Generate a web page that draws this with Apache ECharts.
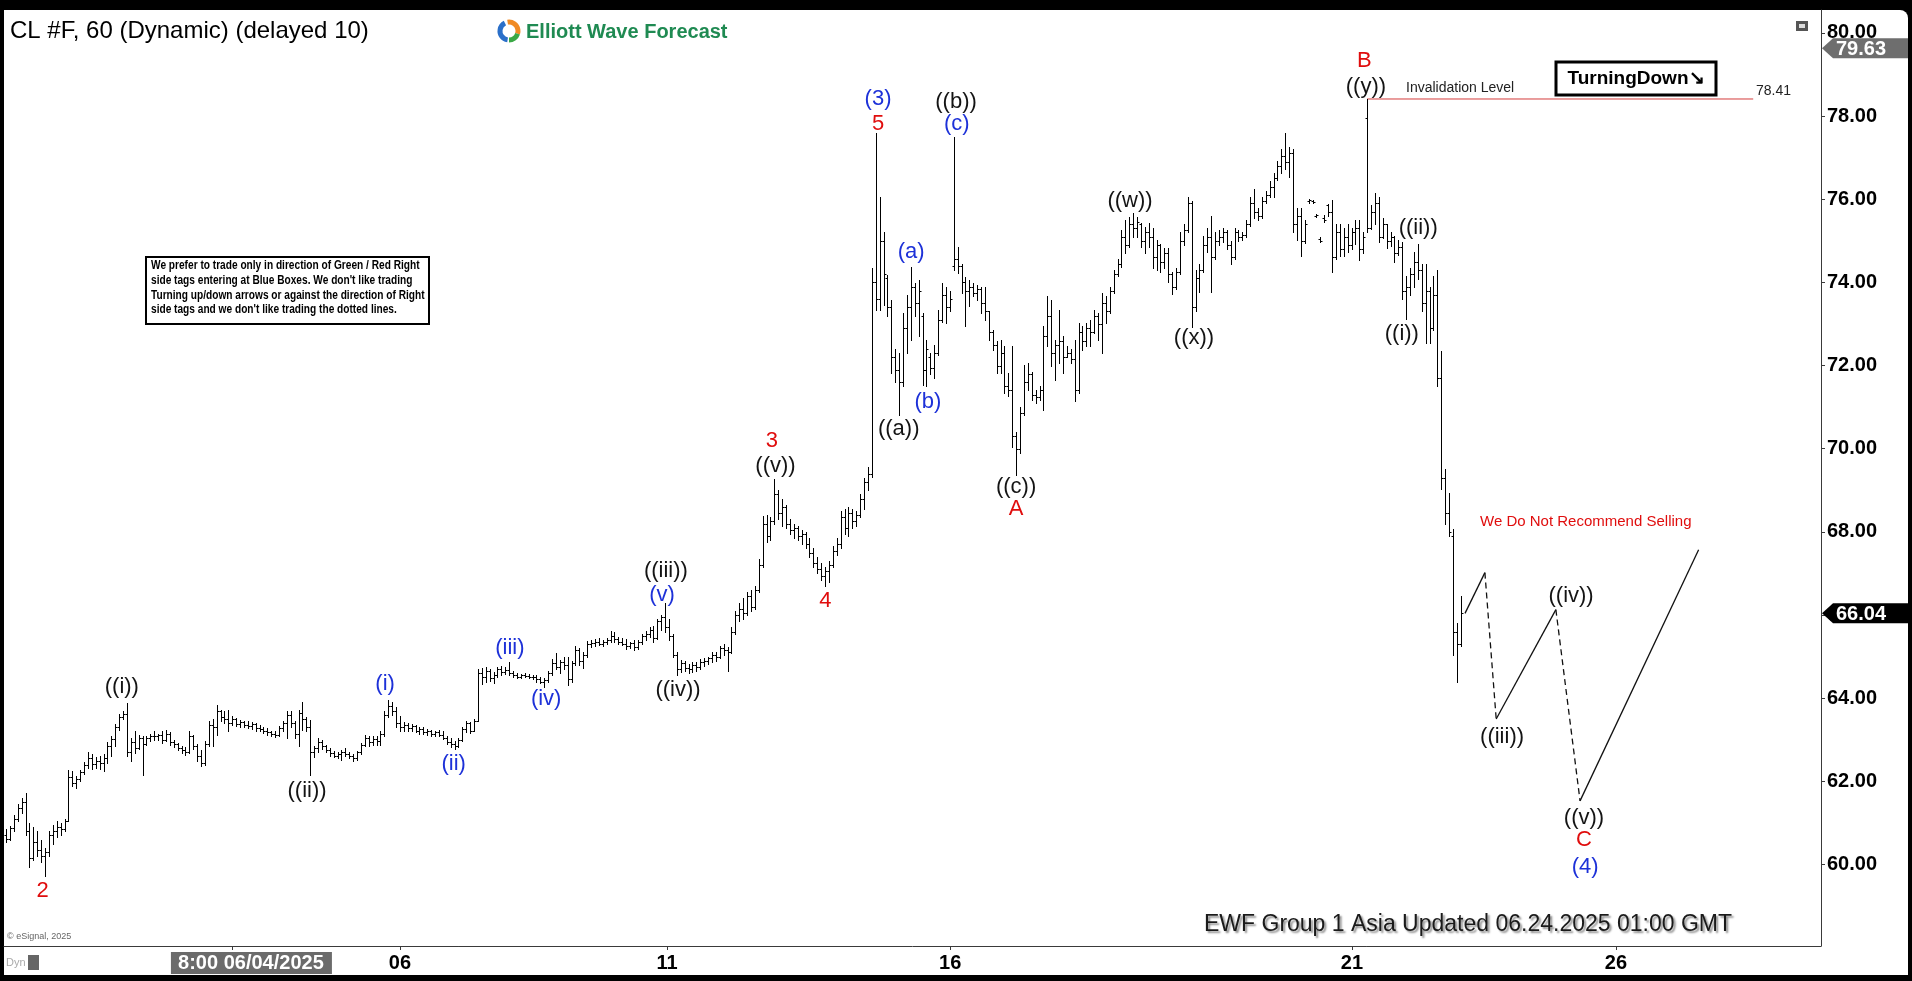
<!DOCTYPE html>
<html><head><meta charset="utf-8">
<script src="https://cdn.jsdelivr.net/npm/echarts@6/dist/echarts.min.js"></script>
<style>
html,body{margin:0;padding:0;background:#000;width:1912px;height:981px;overflow:hidden}
#frame{position:absolute;left:4px;top:10px;width:1904px;height:965px;background:#fff;border-radius:0 8px 0 0}
#chart{position:absolute;left:0;top:0;width:1912px;height:981px}
</style></head><body><div id="frame"></div><div id="chart"></div>
<script>
// ---- hourly OHLC bars [open, high, low, close], one per bar index ----
const bars = [
[60.70,60.85,60.55,60.62],[60.62,60.92,60.60,60.88],[60.88,61.20,60.80,61.10],[61.10,61.45,61.05,61.35],[61.35,61.60,61.25,61.50],
[61.50,61.72,60.70,60.80],[60.80,61.00,59.95,60.15],[60.15,60.90,60.10,60.55],[60.55,60.80,60.20,60.35],[60.35,60.60,60.05,60.20],
[60.20,60.40,59.72,60.30],[60.30,60.80,60.20,60.70],[60.70,60.95,60.50,60.80],[60.80,61.05,60.65,60.90],[60.90,61.00,60.70,60.85],
[60.85,61.10,60.80,61.05],[61.05,62.28,61.04,62.10],[62.10,62.25,61.88,61.95],[61.95,62.12,61.84,62.05],[62.05,62.28,62.00,62.22],
[62.22,62.46,62.18,62.40],[62.40,62.70,62.32,62.55],[62.55,62.66,62.30,62.42],[62.42,62.58,62.32,62.50],[62.50,62.60,62.30,62.45],
[62.45,62.66,62.24,62.55],[62.55,62.94,62.44,62.85],[62.85,63.10,62.62,63.02],[63.02,63.38,62.86,63.30],[63.30,63.62,63.24,63.55],
[63.55,63.70,63.50,63.62],[63.62,63.88,62.62,62.70],[62.70,63.05,62.50,62.95],[62.95,63.20,62.68,62.80],[62.80,63.12,62.78,63.05],
[63.05,63.10,62.16,62.90],[62.90,63.10,62.88,63.05],[63.05,63.15,62.98,63.10],[63.10,63.20,63.00,63.08],[63.08,63.14,63.00,63.12],
[63.12,63.22,62.92,63.00],[63.00,63.24,62.96,63.15],[63.15,63.18,62.88,62.95],[62.95,63.00,62.82,62.90],[62.90,62.92,62.76,62.80],
[62.80,62.85,62.68,62.75],[62.75,62.82,62.64,62.70],[62.70,63.20,62.68,63.10],[63.10,63.12,62.78,62.85],[62.85,62.90,62.50,62.60],
[62.60,62.76,62.36,62.45],[62.45,62.98,62.40,62.90],[62.90,63.44,62.85,63.35],[63.35,63.50,62.85,63.30],[63.30,63.84,63.12,63.70],
[63.70,63.72,63.45,63.55],[63.55,63.68,63.40,63.50],[63.50,63.72,63.20,63.40],[63.40,63.56,63.35,63.50],[63.50,63.52,63.32,63.38],
[63.38,63.48,63.30,63.42],[63.42,63.46,63.30,63.35],[63.35,63.44,63.28,63.32],[63.32,63.42,63.26,63.38],[63.38,63.40,63.22,63.28],
[63.28,63.36,63.20,63.25],[63.25,63.30,63.16,63.22],[63.22,63.28,63.12,63.18],[63.18,63.22,63.10,63.14],[63.14,63.20,63.06,63.12],
[63.12,63.32,63.10,63.28],[63.28,63.44,63.20,63.40],[63.40,63.68,63.05,63.60],[63.60,63.70,63.30,63.40],[63.40,63.44,63.04,63.15],
[63.15,63.72,62.84,63.65],[63.65,63.92,63.24,63.50],[63.50,63.55,63.20,63.30],[63.30,63.48,62.16,62.70],[62.70,62.86,62.58,62.80],
[62.80,63.04,62.70,62.95],[62.95,63.00,62.78,62.85],[62.85,62.88,62.70,62.75],[62.75,62.80,62.62,62.68],[62.68,62.72,62.58,62.62],
[62.62,62.70,62.56,62.65],[62.65,62.76,62.52,62.70],[62.70,62.80,62.62,62.66],[62.66,62.70,62.55,62.60],[62.60,62.66,62.48,62.55],
[62.55,62.74,62.52,62.70],[62.70,62.92,62.66,62.88],[62.88,63.12,62.84,63.05],[63.05,63.10,62.86,62.95],[62.95,63.10,62.88,63.02],
[63.02,63.08,62.88,62.98],[62.98,63.20,62.88,63.15],[63.15,63.68,63.10,63.60],[63.60,63.96,63.55,63.80],[63.80,63.90,63.60,63.70],
[63.70,63.78,63.30,63.40],[63.40,63.56,63.22,63.30],[63.30,63.42,63.20,63.35],[63.35,63.40,63.22,63.28],[63.28,63.38,63.20,63.32],
[63.32,63.36,63.18,63.22],[63.22,63.30,63.15,63.25],[63.25,63.30,63.14,63.18],[63.18,63.26,63.12,63.20],[63.20,63.24,63.10,63.14],
[63.14,63.22,63.08,63.18],[63.18,63.24,63.10,63.12],[63.12,63.20,63.02,63.05],[63.05,63.10,62.90,62.95],[62.95,63.05,62.82,62.90],
[62.90,62.98,62.78,62.85],[62.85,63.05,62.82,63.00],[63.00,63.30,62.96,63.25],[63.25,63.44,63.18,63.40],[63.40,63.42,63.16,63.22],
[63.22,63.50,63.20,63.45],[63.45,64.70,63.44,64.60],[64.60,64.72,64.34,64.50],[64.50,64.74,64.40,64.65],[64.65,64.70,64.42,64.48],
[64.48,64.62,64.36,64.55],[64.55,64.76,64.50,64.70],[64.70,64.78,64.56,64.62],[64.62,64.74,64.58,64.68],[64.68,64.86,64.55,64.60],
[64.60,64.66,64.50,64.56],[64.56,64.60,64.48,64.52],[64.52,64.58,64.48,64.55],[64.55,64.60,64.50,64.54],[64.54,64.58,64.48,64.52],
[64.52,64.56,64.46,64.50],[64.50,64.55,64.40,64.45],[64.45,64.50,64.36,64.40],[64.40,64.48,64.28,64.44],[64.44,64.66,64.40,64.60],
[64.60,64.95,64.55,64.85],[64.85,65.08,64.70,64.75],[64.75,64.92,64.60,64.88],[64.88,64.98,64.70,64.80],[64.80,65.00,64.32,64.45],
[64.45,64.90,64.40,64.85],[64.85,65.25,64.80,65.15],[65.15,65.20,64.80,64.90],[64.90,65.10,64.72,65.05],[65.05,65.38,65.00,65.30],
[65.30,65.40,65.22,65.32],[65.32,65.42,65.25,65.35],[65.35,65.45,65.28,65.30],[65.30,65.40,65.26,65.36],[65.36,65.44,65.30,65.40],
[65.40,65.62,65.36,65.50],[65.50,65.58,65.35,65.42],[65.42,65.48,65.30,65.35],[65.35,65.45,65.28,65.30],[65.30,65.42,65.18,65.25],
[65.25,65.36,65.20,65.32],[65.32,65.40,65.15,65.22],[65.22,65.40,65.18,65.36],[65.36,65.55,65.30,65.50],[65.50,65.62,65.40,65.55],
[65.55,65.70,65.48,65.65],[65.65,65.74,65.35,65.45],[65.45,65.90,65.42,65.85],[65.85,66.00,65.65,65.95],[65.95,66.29,65.60,65.70],
[65.70,65.90,65.40,65.50],[65.50,65.55,64.98,65.05],[65.05,65.10,64.56,64.70],[64.70,64.92,64.62,64.85],[64.85,64.90,64.66,64.72],
[64.72,64.82,64.60,64.70],[64.70,64.86,64.62,64.80],[64.80,64.88,64.66,64.76],[64.76,64.94,64.70,64.88],[64.88,64.96,64.78,64.90],
[64.90,65.00,64.82,64.96],[64.96,65.10,64.88,65.05],[65.05,65.10,64.90,65.00],[65.00,65.25,64.96,65.20],[65.20,65.30,65.05,65.15],
[65.15,65.22,64.65,65.10],[65.10,65.70,65.08,65.60],[65.60,66.10,65.55,66.00],[66.00,66.30,65.85,66.15],[66.15,66.40,65.90,66.05],
[66.05,66.55,66.00,66.45],[66.45,66.60,66.10,66.20],[66.20,66.70,66.15,66.60],[66.60,67.35,66.55,67.20],[67.20,68.37,67.15,68.20],
[68.20,68.40,67.75,67.90],[67.90,68.35,67.80,68.25],[68.25,69.28,68.20,68.90],[68.90,69.00,68.30,68.45],[68.45,68.80,68.15,68.60],
[68.60,68.65,68.10,68.20],[68.20,68.30,67.95,68.05],[68.05,68.20,67.85,68.10],[68.10,68.15,67.80,67.90],[67.90,68.05,67.70,67.95],
[67.95,68.00,67.60,67.70],[67.70,67.85,67.40,67.50],[67.50,67.60,67.15,67.25],[67.25,67.40,67.00,67.10],[67.10,67.25,66.85,66.95],
[66.95,67.15,66.69,67.05],[67.05,67.30,66.80,67.20],[67.20,67.65,67.15,67.55],[67.55,67.85,67.45,67.70],[67.70,68.50,67.60,68.35],
[68.35,68.55,67.95,68.10],[68.10,68.60,67.90,68.45],[68.45,68.55,68.10,68.25],[68.25,68.50,68.15,68.40],[68.40,68.90,68.35,68.80],
[68.80,69.30,68.55,69.20],[69.20,69.55,69.00,69.40],[69.40,74.34,69.33,74.00],[74.00,77.60,73.34,73.60],[73.60,76.05,73.34,75.00],
[75.00,75.20,73.45,74.20],[74.10,74.18,73.18,73.40],[73.40,73.58,71.82,72.20],[72.20,72.40,71.60,71.90],[71.90,72.30,70.82,71.60],
[71.60,73.26,71.50,72.90],[72.90,73.70,72.30,73.40],[73.40,74.38,72.62,73.90],[73.90,73.98,73.18,73.50],[73.50,74.06,72.70,73.80],
[73.20,73.26,71.54,71.90],[71.90,72.62,71.50,72.40],[72.20,72.30,71.80,71.95],[71.95,72.50,71.70,72.30],[72.30,73.34,72.25,73.10],
[73.10,73.98,73.05,73.70],[73.70,73.90,73.02,73.40],[73.40,73.80,73.30,73.60],[74.40,77.50,74.30,74.55],[74.55,74.86,74.22,74.40],
[74.40,74.45,73.74,74.00],[74.00,74.14,72.94,73.80],[73.80,74.06,73.42,73.90],[73.90,73.98,73.66,73.75],[73.75,73.94,73.58,73.85],
[73.85,73.90,73.26,73.50],[73.50,73.90,73.10,73.30],[73.30,73.30,72.62,72.80],[72.80,72.86,72.38,72.50],[72.50,72.60,71.82,72.00],
[72.00,72.62,71.82,72.30],[72.30,72.46,71.34,71.50],[71.50,71.82,71.26,71.40],[71.40,72.46,70.05,70.30],[70.30,70.40,69.36,70.00],
[70.00,71.00,69.90,70.85],[70.85,72.02,70.80,71.60],[71.60,72.06,71.40,71.80],[71.80,71.85,71.18,71.30],[71.30,71.42,71.10,71.25],
[71.25,71.50,71.18,71.40],[71.40,72.94,70.93,72.70],[72.70,73.66,72.46,73.20],[73.20,73.58,71.98,72.30],[72.30,72.62,71.66,72.50],
[72.50,73.34,72.06,72.60],[72.60,72.70,71.82,72.20],[72.20,72.46,72.20,72.30],[72.30,72.40,72.06,72.15],[72.15,72.62,71.14,71.40],
[71.40,73.02,71.34,72.80],[72.80,72.94,72.38,72.60],[72.60,73.02,72.46,72.90],[72.90,73.10,72.46,72.80],[72.80,73.34,72.78,73.20],
[73.20,73.26,72.62,73.00],[73.00,73.74,72.30,73.50],[73.50,73.66,73.02,73.30],[73.30,73.90,73.26,73.80],[73.80,74.30,73.74,74.20],
[74.20,74.55,74.15,74.45],[74.45,75.26,74.38,75.10],[75.10,75.50,74.70,74.90],[74.90,75.58,74.86,75.40],[75.40,75.68,75.10,75.30],
[75.30,75.58,75.10,75.45],[75.40,75.42,74.86,75.00],[75.00,75.34,74.70,75.20],[75.20,75.42,74.86,75.10],[75.10,75.30,74.35,74.60],
[74.60,75.02,74.30,74.90],[74.90,74.92,74.26,74.50],[74.50,74.83,74.35,74.70],[74.70,74.83,74.00,74.20],[74.20,74.26,73.73,73.90],
[73.90,74.35,73.85,74.25],[74.25,75.21,74.20,75.00],[75.00,75.40,74.90,75.25],[75.25,76.06,75.20,75.90],[75.90,75.95,72.93,73.40],
[73.40,74.30,73.31,74.10],[74.10,74.45,73.78,74.30],[74.30,75.11,74.26,74.90],[74.90,75.30,74.73,75.10],[75.10,75.59,73.78,74.60],
[74.60,75.21,74.55,75.00],[75.00,75.25,74.90,75.10],[75.10,75.30,74.97,75.20],[75.20,75.25,74.80,74.90],[74.90,75.00,74.45,74.60],
[74.60,75.30,74.55,75.20],[75.20,75.25,75.00,75.10],[75.10,75.20,75.02,75.15],[75.15,75.50,75.10,75.40],[75.40,76.06,75.35,75.90],
[75.90,76.25,75.55,75.70],[75.70,75.80,75.49,75.60],[75.60,76.06,75.55,75.95],[75.95,76.20,75.90,76.10],[76.10,76.44,76.05,76.30],
[76.30,76.63,76.06,76.50],[76.50,76.92,76.45,76.80],[76.80,77.20,76.63,77.05],[77.05,77.58,76.73,76.90],[76.90,77.25,76.54,77.10],
[77.10,77.20,75.21,75.40],[75.40,75.78,75.02,75.60],[75.60,75.78,74.64,75.00],[75.00,75.50,74.95,75.40],[75.95,76.00,75.92,75.97],
[75.95,75.98,75.90,75.93],[75.60,75.64,75.58,75.62],[75.05,75.10,74.98,75.00],[75.55,75.62,75.45,75.50],[75.85,75.88,75.59,75.70],
[75.70,75.97,74.26,74.60],[74.60,75.40,74.55,75.20],[75.20,75.40,74.64,74.80],[74.80,75.30,74.64,75.10],[75.10,75.40,74.73,74.90],
[74.90,75.30,74.80,75.20],[75.20,75.49,74.92,75.30],[75.30,75.49,74.54,74.80],[74.80,75.20,74.70,75.10],[77.95,78.40,75.21,75.30],
[75.30,75.87,75.28,75.70],[75.70,76.16,75.40,75.90],[75.90,76.06,74.97,75.10],[75.10,75.54,75.06,75.40],[75.40,75.40,74.83,75.00],
[75.00,75.21,74.87,75.10],[75.10,75.11,74.50,74.70],[74.70,75.02,74.65,74.85],[74.85,74.97,73.59,73.80],[73.80,74.16,73.12,73.90],
[73.90,74.35,73.69,74.20],[74.20,74.73,73.88,74.50],[74.50,74.92,74.07,74.30],[74.30,74.45,73.31,73.50],[73.50,74.45,72.55,73.80],
[73.80,73.88,72.55,72.90],[72.90,74.16,72.85,73.70],[73.70,74.30,71.50,71.70],[71.70,72.36,69.03,69.30],[69.30,69.50,68.18,68.45],
[68.45,68.94,67.89,68.00],[67.90,68.08,65.04,65.60],[65.60,65.80,64.38,65.30],[65.30,66.46,65.25,66.04]
];

// ---- wave labels (x = bar index, y = price) ----
const waveText  = ['2','((i))','((ii))','(i)','(ii)','(iii)','(iv)','((iii))','(v)','((iv))','3','((v))','4','(3)','5','((a))','(a)','(b)','((b))','(c)','((c))','A','((w))','((x))','B','((y))','((i))','((ii))','((iii))','((iv))','((v))','C','(4)'];
const waveX     = [9.4,29.7,77.2,97.2,114.8,129.2,138.5,169.2,168.2,172.3,196.4,197.3,210.1,223.6,223.6,228.9,232.1,236.4,243.6,243.8,259.0,259.0,288.2,304.6,348.3,348.7,357.9,362.1,383.6,401.3,404.6,404.6,404.9];
const waveY     = [59.36,64.26,61.77,64.35,62.41,65.20,63.99,67.07,66.49,64.20,70.18,69.59,66.34,78.42,77.80,70.47,74.72,71.12,78.33,77.80,69.07,68.54,75.95,72.67,79.33,78.71,72.76,75.31,63.06,66.46,61.12,60.59,59.95];
const waveColor = ['r','k','k','b','b','b','b','k','b','k','r','k','r','b','r','k','b','b','k','b','k','r','k','k','r','k','k','k','k','k','k','r','b'];

// ---- projected path ----
const projX = [374.1, 379.2, 382.1, 397.4, 403.6, 434.0];
const projY = [66.04, 67.02, 63.50, 66.13, 61.53, 67.57];
const projDashed = [false, true, false, true, false];

// ---- invalidation level ----
const invX = [349, 448];
const invLevel = 78.41;

// ---- axis ticks ----
const xTickPos = [57.9, 101.0, 169.5, 242.1, 345.1, 412.8];
const xLabelPos = [101.0, 169.5, 242.1, 345.1, 412.8];
const xLabelText = ['06', '11', '16', '21', '26'];
const cursorPos = 62.8;
const cursorText = '8:00 06/04/2025';
const yTicks = [60, 62, 64, 66, 68, 70, 72, 74, 76, 78, 80];
const lastPrice = 66.04;
const greyTagPrice = 79.63;

const FONT = "'Liberation Sans', Arial, sans-serif";
const COLORS = { r: '#e00d0d', k: '#141414', b: '#1d31d8' };

const chart = echarts.init(document.getElementById('chart'), null, { renderer: 'canvas' });

const series = [];
series.push({
  type: 'custom', clip: false, z: 5,
  data: bars.map((b, i) => [i, b[0], b[1], b[2], b[3]]),
  encode: { x: 0, y: [1, 2, 3, 4] },
  renderItem: function (params, api) {
    const x = api.value(0);
    const po = api.coord([x, api.value(1)]);
    const ph = api.coord([x, api.value(2)]);
    const pl = api.coord([x, api.value(3)]);
    const pc = api.coord([x, api.value(4)]);
    const xx = Math.round(ph[0]) + 0.5;
    const st = { stroke: '#000', lineWidth: 1 };
    return { type: 'group', children: [
      { type: 'line', shape: { x1: xx, y1: Math.round(ph[1]), x2: xx, y2: Math.round(pl[1]) + 1 }, style: st },
      { type: 'line', shape: { x1: xx - 2, y1: Math.round(po[1]) + 0.5, x2: xx, y2: Math.round(po[1]) + 0.5 }, style: st },
      { type: 'line', shape: { x1: xx, y1: Math.round(pc[1]) + 0.5, x2: xx + 2, y2: Math.round(pc[1]) + 0.5 }, style: st }
    ]};
  }
});
for (let s = 0; s < projDashed.length; s++) {
  series.push({
    type: 'line', symbol: 'none', silent: true, z: 4,
    data: [[projX[s], projY[s]], [projX[s + 1], projY[s + 1]]],
    lineStyle: { color: '#111', width: 1.3, type: projDashed[s] ? [6, 4] : 'solid' }
  });
}
series.push({
  type: 'line', symbol: 'none', silent: true, z: 3,
  data: [[invX[0], invLevel], [invX[1], invLevel]],
  lineStyle: { color: '#d43c3c', width: 1 }
});
series.push({
  type: 'custom', clip: false, z: 6,
  data: waveX.map((x, i) => [x, waveY[i]]),
  encode: { x: 0, y: 1 },
  renderItem: function (params, api) {
    const p = api.coord([api.value(0), api.value(1)]);
    const i = params.dataIndex;
    return { type: 'text', x: p[0], y: p[1], style: {
      text: waveText[i], fill: COLORS[waveColor[i]], font: '22px ' + FONT, align: 'center', verticalAlign: 'middle' } };
  }
});

const option = {
  backgroundColor: 'transparent',
  animation: false,
  grid: { left: 4, top: 10, right: 91, bottom: 35 },
  xAxis: {
    type: 'value', min: -0.513, max: 465.38,
    axisLine: { show: true, onZero: false, lineStyle: { color: '#3a3a3a', width: 1 } },
    splitLine: { show: false },
    axisTick: { show: true, customValues: xTickPos, length: 4, lineStyle: { color: '#3a3a3a' } },
    axisLabel: {
      customValues: xLabelPos, margin: 7, color: '#000', fontFamily: FONT, fontWeight: 'bold', fontSize: 20,
      formatter: function (v) { const k = xLabelPos.findIndex(p => Math.abs(p - v) < 1e-6); return k >= 0 ? xLabelText[k] : ''; }
    }
  },
  yAxis: {
    type: 'value', position: 'right', min: 58.04, max: 80.55, scale: true,
    axisLine: { show: true, onZero: false, lineStyle: { color: '#3a3a3a', width: 1 } },
    splitLine: { show: false },
    axisTick: { show: true, customValues: yTicks, length: 4, lineStyle: { color: '#3a3a3a' } },
    axisLabel: {
      customValues: yTicks, margin: 6, color: '#000', fontFamily: FONT, fontWeight: 'bold', fontSize: 20,
      formatter: function (v) { return v.toFixed(2); }
    }
  },
  series: series
};
chart.setOption(option);

// ---- annotations ----
const yLast = chart.convertToPixel({ yAxisIndex: 0 }, lastPrice);
const yGrey = chart.convertToPixel({ yAxisIndex: 0 }, greyTagPrice);
const xCursor = chart.convertToPixel({ xAxisIndex: 0 }, cursorPos);
function tag(y, color, text) {
  return [
    { type: 'polygon', z: 20, shape: { points: [[1822, y], [1833, y - 10], [1908, y - 10], [1908, y + 10], [1833, y + 10]] }, style: { fill: color } },
    { type: 'text', z: 21, x: 1836, y: y + 1, style: { text: text, fill: '#fff', font: 'bold 20px ' + FONT, align: 'left', verticalAlign: 'middle' } }
  ];
}
const infoLines = [
  'We prefer to trade only in direction of Green / Red Right',
  "side tags entering at Blue Boxes. We don't like trading",
  'Turning up/down arrows or against the direction of Right',
  "side tags and we don't like trading the dotted lines."
];
const graphics = [
  { type: 'text', x: 10, y: 31, style: { text: 'CL #F, 60 (Dynamic) (delayed 10)', fill: '#000', font: '24px ' + FONT, align: 'left', verticalAlign: 'middle' } },
  { type: 'arc', shape: { cx: 509, cy: 31, r: 9, startAngle: Math.PI * 0.55, endAngle: Math.PI * 1.35 }, style: { stroke: '#2a6fc9', lineWidth: 5, fill: null } },
  { type: 'arc', shape: { cx: 509, cy: 31, r: 9, startAngle: Math.PI * 1.45, endAngle: Math.PI * 2.1 }, style: { stroke: '#f08a24', lineWidth: 5, fill: null } },
  { type: 'arc', shape: { cx: 509, cy: 31, r: 9, startAngle: Math.PI * 0.1, endAngle: Math.PI * 0.5 }, style: { stroke: '#3aa845', lineWidth: 5, fill: null } },
  { type: 'text', x: 526, y: 32, style: { text: 'Elliott Wave Forecast', fill: '#1f8a52', font: 'bold 20px ' + FONT, align: 'left', verticalAlign: 'middle' } },
  { type: 'rect', shape: { x: 146, y: 257, width: 283, height: 67 }, style: { fill: '#fff', stroke: '#000', lineWidth: 2 } },
  { type: 'rect', z: 5, shape: { x: 1556, y: 62, width: 160, height: 33 }, style: { fill: '#fff', stroke: '#000', lineWidth: 3 } },
  { type: 'text', z: 6, x: 1636, y: 79, style: { text: 'TurningDown\u2198', fill: '#000', font: 'bold 19px ' + FONT, align: 'center', verticalAlign: 'middle' } },
  { type: 'text', x: 1406, y: 88, style: { text: 'Invalidation Level', fill: '#222', font: '14px ' + FONT, align: 'left', verticalAlign: 'middle' } },
  { type: 'text', x: 1756, y: 91, style: { text: '78.41', fill: '#222', font: '14px ' + FONT, align: 'left', verticalAlign: 'middle' } },
  { type: 'text', x: 1480, y: 522, style: { text: 'We Do Not Recommend Selling', fill: '#e00d0d', font: '15px ' + FONT, align: 'left', verticalAlign: 'middle' } },
  { type: 'text', x: 1204, y: 925, style: { text: 'EWF Group 1 Asia Updated 06.24.2025 01:00 GMT', fill: '#1a1a1a', font: '23px ' + FONT, align: 'left', verticalAlign: 'middle', textShadowColor: 'rgba(0,0,0,0.45)', textShadowBlur: 2, textShadowOffsetX: 2, textShadowOffsetY: 2 } },
  { type: 'text', x: 7, y: 937, style: { text: '\u00a9 eSignal, 2025', fill: '#666', font: '9px ' + FONT, align: 'left', verticalAlign: 'middle' } },
  { type: 'text', x: 6, y: 963, style: { text: 'Dyn', fill: '#aaa', font: '11px ' + FONT, align: 'left', verticalAlign: 'middle' } },
  { type: 'rect', shape: { x: 28, y: 955, width: 11, height: 15 }, style: { fill: '#666' } },
  { type: 'rect', shape: { x: xCursor - 80, y: 952, width: 161, height: 22 }, style: { fill: '#6b6b6b' } },
  { type: 'text', x: xCursor, y: 963, style: { text: cursorText, fill: '#fff', font: 'bold 20px ' + FONT, align: 'center', verticalAlign: 'middle' } },
  { type: 'rect', shape: { x: 1796, y: 21, width: 12, height: 10 }, style: { fill: '#555' } },
  { type: 'rect', shape: { x: 1799, y: 24, width: 6, height: 4 }, style: { fill: '#ddd' } }
].concat(infoLines.map((t, i) => ({ type: 'text', x: 151, y: 266 + i * 14.6, scaleX: 0.845, originX: 0, originY: 0, style: { text: t, fill: '#000', font: 'bold 12px ' + FONT, align: 'left', verticalAlign: 'middle' } })))
 .concat(tag(yGrey, '#6e6e6e', greyTagPrice.toFixed(2)))
 .concat(tag(yLast, '#000', lastPrice.toFixed(2)));
chart.setOption({ graphic: graphics });
</script></body></html>
